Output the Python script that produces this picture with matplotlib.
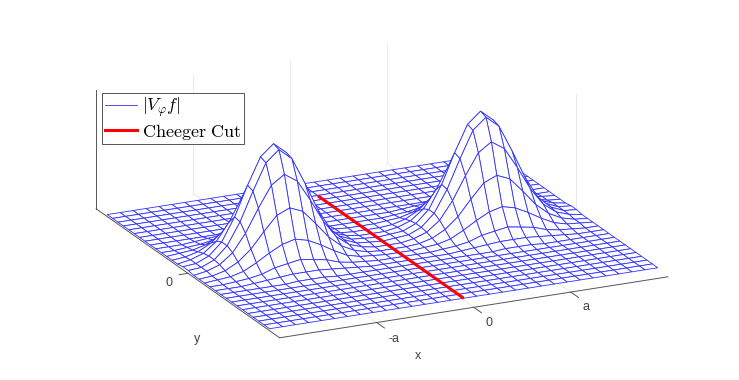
"""Two-bump mesh with a Cheeger cut through the middle."""

import matplotlib
matplotlib.use("Agg")
import matplotlib.pyplot as plt
import numpy as np
from matplotlib.lines import Line2D

W, H = 739, 380

# mesh extents (a = 1)
x_grid = np.linspace(-2.0, 2.0, 31)
y_grid = np.linspace(-1.78, 1.76, 31)
floor_level = 1.8

# heights around each peak, estimated from the mesh rows (front to back)
peak_heights = [
    [0, 0, 0, 0, 0, 0, 1, 1, 1, 0, 0, 0, 0, 0, 0],
    [0, 0, 0, 1, 2, 3, 4, 4, 4, 3, 2, 1, 0, 0, 0],
    [0, 0, 1, 2, 4, 8, 10, 12, 10, 8, 4, 2, 1, 0, 0],
    [0, 1, 2, 5, 11, 18, 24, 27, 24, 18, 11, 5, 2, 1, 0],
    [0, 1, 4, 10, 20, 34, 47, 52, 47, 34, 20, 10, 4, 1, 0],
    [0, 2, 6, 15, 31, 52, 71, 79, 71, 52, 31, 15, 6, 2, 0],
    [1, 2, 7, 18, 38, 64, 88, 98, 88, 64, 38, 18, 7, 2, 1],
    [1, 2, 7, 18, 39, 66, 90, 100, 90, 66, 39, 18, 7, 2, 1],
    [0, 2, 6, 15, 31, 52, 71, 79, 71, 52, 31, 15, 6, 2, 0],
    [0, 1, 4, 10, 20, 34, 47, 52, 47, 34, 20, 10, 4, 1, 0],
    [0, 1, 2, 5, 11, 18, 24, 27, 24, 18, 11, 5, 2, 1, 0],
    [0, 0, 1, 2, 4, 8, 10, 12, 10, 8, 4, 2, 1, 0, 0],
    [0, 0, 0, 1, 2, 3, 4, 4, 4, 3, 2, 1, 0, 0, 0],
    [0, 0, 0, 0, 0, 0, 1, 1, 1, 0, 0, 0, 0, 0, 0],
]
left_peak_column = 0
right_peak_column = 16
peak_row = 9

cut_x = [0.0, 0.0]
cut_y = [-1.78, 1.40]

x_ticks = [-1, 0, 1]
x_tick_labels = ["-a", "0", "a"]
y_ticks = [0]
y_tick_labels = ["0"]

MESH = "#3030ff"
AXIS = "#555555"
GRID = "#e6e6e6"

plt.rcParams["mathtext.fontset"] = "cm"
plt.rcParams["font.family"] = ["Liberation Sans", "DejaVu Sans"]

X, Y = np.meshgrid(x_grid, y_grid)
Z = np.full(X.shape, floor_level)
table = np.array(peak_heights, dtype=float)
rows, cols = table.shape
Z[peak_row:peak_row + rows, left_peak_column:left_peak_column + cols] += table
Z[peak_row:peak_row + rows, right_peak_column:right_peak_column + cols] += table

fig = plt.figure(figsize=(W / 100, H / 100), dpi=100)
ax = fig.add_axes([2 / W, -183.5 / H, 740 / W, 740 / H], projection="3d",
                  proj_type="ortho", computed_zorder=False)
ax.view_init(elev=19.4, azim=-115.3)
ax.set_box_aspect((1, 1, 0.293), zoom=0.8135)
ax.set_xlim(-2, 2, view_margin=0)
ax.set_ylim(-2, 2, view_margin=0)
ax.set_zlim(0, 108, view_margin=0)
ax.set_axis_off()

# walls and floor grid sit under the mesh
for xt in x_ticks:
    ax.plot([xt, xt], [2, 2], [0, 108], color=GRID, lw=0.6, zorder=1)
    ax.plot([xt, xt], [-2, 2], [0, 0], color=GRID, lw=0.6, zorder=1)
for yt in y_ticks:
    ax.plot([2, 2], [yt, yt], [0, 108], color=GRID, lw=0.6, zorder=1)
    ax.plot([-2, 2], [yt, yt], [0, 0], color=GRID, lw=0.6, zorder=1)

ax.plot([-2, 2], [-2, -2], [0, 0], color=AXIS, lw=0.7, zorder=1)
ax.plot([-2, -2], [-2, 2], [0, 0], color=AXIS, lw=0.7, zorder=1)
ax.plot([-2, -2], [2, 2], [0, 108], color=AXIS, lw=0.7, zorder=1)
for xt in x_ticks:
    ax.plot([xt, xt], [-2, -2.17], [0, 0], color=AXIS, lw=0.7, zorder=1)
for yt in y_ticks:
    ax.plot([-2, -2.09], [yt, yt], [0, 0], color=AXIS, lw=0.7, zorder=1)

ax.plot_surface(X, Y, Z, rstride=1, cstride=1, color="white", edgecolor=MESH,
                linewidth=0.6, shade=False, zorder=2)
ax.plot(cut_x, cut_y, [floor_level, floor_level], color="red", lw=2.2, zorder=3,
        solid_capstyle="butt")


def label(px, py, text, size=9):
    fig.text(px / W, 1 - py / H, text, ha="center", va="center",
             color="#404040", fontsize=size)


for px, py, text in zip([394, 489, 586], [339, 323, 307], x_tick_labels):
    label(px, py, text)
label(169, 283, y_tick_labels[0])
label(418, 356, "x")
label(197, 339, "y")

handles = [Line2D([], [], color=MESH, lw=0.6), Line2D([], [], color="red", lw=2.2)]
fig.legend(handles, [r"$|V_\varphi f|$", r"$\mathrm{Cheeger\ Cut}$"],
           loc="upper left", bbox_to_anchor=(102 / W, 1 - 93 / H),
           borderaxespad=0, fontsize=13, fancybox=False, framealpha=1,
           edgecolor="#555555", borderpad=0.15, labelspacing=0.15,
           handlelength=1.8, handletextpad=0.25).get_frame().set_linewidth(0.7)

fig.savefig("out.png", dpi=100)
